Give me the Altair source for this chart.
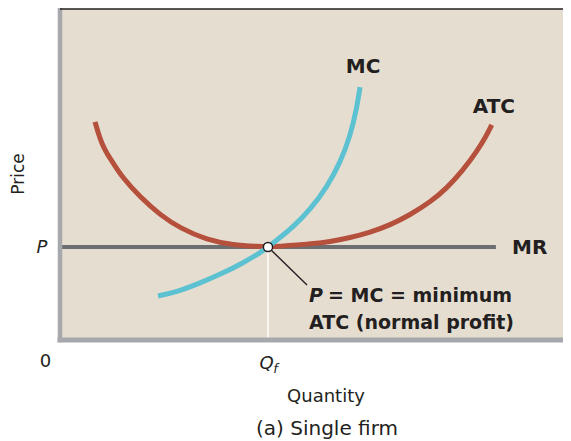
import altair as alt
import pandas as pd

# ---- data (quantity, price in arbitrary units) ----
atc_q = [0.685, 0.750, 0.816, 0.914, 1.043, 1.233, 1.566, 1.957, 2.348, 2.877, 3.386,
         3.914, 4.070, 4.892, 5.284, 5.675, 6.067, 6.458, 6.849, 7.241, 7.567, 7.892,
         8.155, 8.350, 8.448]
atc_p = [6.59, 6.245, 5.943, 5.640, 5.338, 4.89, 4.32, 3.78, 3.38, 3.02, 2.87,
         2.825, 2.81, 2.90, 2.97, 3.09, 3.25, 3.47, 3.78, 4.16, 4.58, 5.14,
         5.69, 6.19, 6.50]

mc_q = [1.918, 2.290, 2.740, 3.190, 3.581, 3.914, 4.070, 4.247, 4.560, 4.892,
        5.225, 5.479, 5.675, 5.812, 5.871]
mc_p = [1.33, 1.45, 1.72, 2.02, 2.33, 2.63, 2.81, 3.02, 3.41, 3.93,
        4.62, 5.35, 6.13, 7.04, 7.64]

mr_q = [0.0, 8.53]
p_level = 2.81
q_f = 4.07
q_max = 9.843
p_max = 10.0

# label texts and anchor points (data units)
curve_labels = ["MC", "ATC"]
curve_label_q = [5.93, 8.49]
curve_label_p = [8.07, 6.86]

mr_label = ["MR"]
mr_label_q = [8.845]
mr_label_p = [2.60]

note_lines = ["= MC = minimum", "ATC (normal profit)"]
note_q = [5.245, 4.873]
note_p = [1.148, 0.332]
note_p_italic = ["P"]
note_p_italic_q = [4.873]
note_p_italic_p = [1.148]

leader_q = [q_f, 4.834]
leader_p = [p_level, 1.662]

axis_italic = ["P", "Q"]
axis_italic_q = [-0.352, 4.04]
axis_italic_p = [2.628, -0.876]
sub_label = ["f"]
sub_label_q = [4.22]
sub_label_p = [-0.997]
axis_plain = ["0", "Quantity"]
axis_plain_q = [-0.284, 5.205]
axis_plain_p = [-0.816, -1.873]
subtitle = ["(a) Single firm"]
subtitle_q = [5.225]
subtitle_p = [-2.870]
y_title = ["Price"]
y_title_q = [-0.70]
y_title_p = [5.015]

# ---- colours ----
BG = "#e6ddd1"
ATC_C = "#b4503b"
MC_C = "#5cc1d0"
MR_C = "#6d6e71"
AXIS_C = "#a7a8ac"
INK = "#231f20"

BOLD = "DejaVu Sans"
REG = "DejaVu Sans"

xs = alt.Scale(domain=[0, q_max], nice=False, zero=False)
ys = alt.Scale(domain=[0, p_max], nice=False, zero=False)


def X(f="q"):
    return alt.X(f"{f}:Q", scale=xs, axis=None)


def Y(f="p"):
    return alt.Y(f"{f}:Q", scale=ys, axis=None)


atc_df = pd.DataFrame({"q": atc_q, "p": atc_p, "o": range(len(atc_q))})
mc_df = pd.DataFrame({"q": mc_q, "p": mc_p, "o": range(len(mc_q))})
mr_df = pd.DataFrame({"q": mr_q, "p": [p_level] * len(mr_q)})

frame_left = alt.Chart(pd.DataFrame({"q": [0.0], "p": [0.0], "p2": [p_max]})).mark_rule(
    color=AXIS_C, strokeWidth=4.5, strokeCap="square").encode(x=X(), y=Y(), y2="p2:Q")
frame_bottom = alt.Chart(pd.DataFrame({"q": [0.0], "q2": [q_max], "p": [0.0]})).mark_rule(
    color=AXIS_C, strokeWidth=5, strokeCap="square").encode(x=X(), x2="q2:Q", y=Y())
frame_top = alt.Chart(pd.DataFrame({"q": [0.0], "q2": [q_max], "p": [p_max]})).mark_rule(
    color=INK, strokeWidth=1.5).encode(x=X(), x2="q2:Q", y=Y())

mr_line = alt.Chart(mr_df).mark_line(color=MR_C, strokeWidth=4, strokeCap="butt").encode(
    x=X(), y=Y())
atc_line = alt.Chart(atc_df).mark_line(color=ATC_C, strokeWidth=5, strokeCap="butt",
                                        interpolate="basis").encode(x=X(), y=Y(), order="o:Q")
mc_line = alt.Chart(mc_df).mark_line(color=MC_C, strokeWidth=5, strokeCap="butt",
                                      interpolate="basis").encode(x=X(), y=Y(), order="o:Q")

qf_rule = alt.Chart(pd.DataFrame({"q": [q_f], "p": [0.0], "p2": [p_level]})).mark_rule(
    color="white", strokeWidth=1.5).encode(x=X(), y=Y(), y2="p2:Q")
leader = alt.Chart(pd.DataFrame({"q": leader_q, "p": leader_p})).mark_line(
    color=INK, strokeWidth=1.4).encode(x=X(), y=Y())
eq_point = alt.Chart(pd.DataFrame({"q": [q_f], "p": [p_level]})).mark_circle(
    fill="white", stroke=INK, strokeWidth=1.5, size=85, opacity=1).encode(x=X(), y=Y())


def text_layer(texts, qs, ps, **kw):
    df = pd.DataFrame({"q": qs, "p": ps, "t": texts})
    base = dict(color=INK, baseline="alphabetic")
    base.update(kw)
    return alt.Chart(df).mark_text(**base).encode(x=X(), y=Y(), text="t:N")


t_curves = text_layer(curve_labels, curve_label_q, curve_label_p, font=BOLD, fontWeight="bold",
                      fontSize=20, align="center")
t_mr = text_layer(mr_label, mr_label_q, mr_label_p, font=BOLD, fontWeight="bold",
                  fontSize=20, align="left")
t_note = text_layer(note_lines, note_q, note_p, font=BOLD, fontWeight="bold",
                    fontSize=19, align="left")
t_note_p = text_layer(note_p_italic, note_p_italic_q, note_p_italic_p, font=BOLD,
                      fontWeight="bold", fontStyle="italic", fontSize=19, align="left")
t_ax_it = text_layer(axis_italic, axis_italic_q, axis_italic_p, font=REG, fontStyle="italic",
                     fontSize=18, align="center")
t_sub = text_layer(sub_label, sub_label_q, sub_label_p, font=REG, fontStyle="italic",
                   fontSize=13, align="center")
t_ax = text_layer(axis_plain, axis_plain_q, axis_plain_p, font=REG, fontSize=18, align="center")
t_subtitle = text_layer(subtitle, subtitle_q, subtitle_p, font=REG, fontSize=20, align="center")
t_ytitle = text_layer(y_title, y_title_q, y_title_p, font=REG, fontSize=17, align="center",
                      angle=270)

chart = alt.layer(
    mr_line, atc_line, mc_line, qf_rule, leader, eq_point,
    frame_left, frame_bottom, frame_top,
    t_curves, t_mr, t_note, t_note_p, t_ax_it, t_sub, t_ax, t_subtitle, t_ytitle,
).properties(
    width=503, height=331,
    padding={"left": 52, "top": 1, "right": 0, "bottom": 101},
    autosize=alt.AutoSizeParams(type="none"),
    background="white",
).configure_view(fill=BG, strokeWidth=0)

chart.save("out.html", embed_options={"renderer": "svg", "actions": False})
